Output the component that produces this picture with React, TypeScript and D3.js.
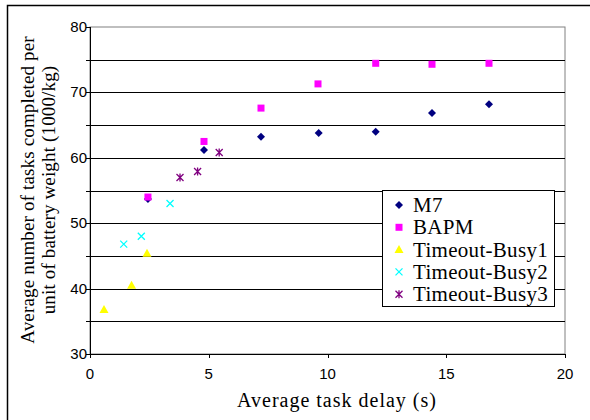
import React from "react";
import * as d3 from "d3";

const m7X = [2.44, 4.8, 7.2, 9.63, 12.03, 14.4, 16.8];
const m7Y = [53.7, 61.2, 63.2, 63.8, 64.0, 66.85, 68.2];
const bapmX = [2.44, 4.8, 7.2, 9.6, 12.03, 14.4, 16.8];
const bapmY = [54.0, 62.5, 67.6, 71.3, 74.45, 74.3, 74.45];
const tb1X = [0.59, 1.75, 2.4];
const tb1Y = [36.8, 40.5, 45.4];
const tb2X = [1.42, 2.16, 3.37];
const tb2Y = [46.8, 48.0, 53.0];
const tb3X = [3.79, 4.53, 5.44];
const tb3Y = [57.0, 57.9, 60.8];

const seriesNames = ["M7", "BAPM", "Timeout-Busy1", "Timeout-Busy2", "Timeout-Busy3"];
const xTicks = [0, 5, 10, 15, 20];
const yTicks = [30, 40, 50, 60, 70, 80];
const yGrid = [35, 40, 45, 50, 55, 60, 65, 70, 75];

const xTitle = "Average task delay (s)";
const yTitle1 = "Average number of tasks completed per";
const yTitle2 = "unit of battery weight (1000/kg)";

type Shape = "diamond" | "square" | "triangle" | "x" | "star";
const seriesStyle: { color: string; shape: Shape }[] = [
  { color: "#000080", shape: "diamond" },
  { color: "#FF00FF", shape: "square" },
  { color: "#FFFF00", shape: "triangle" },
  { color: "#00FFFF", shape: "x" },
  { color: "#800080", shape: "star" },
];

function Marker({ x, y, shape, color }: { x: number; y: number; shape: Shape; color: string }) {
  if (shape === "diamond") {
    return <path d={`M${x},${y - 4}L${x + 4},${y}L${x},${y + 4}L${x - 4},${y}Z`} fill={color} />;
  }
  if (shape === "square") {
    return <rect x={x - 3.5} y={y - 3.5} width={7} height={7} fill={color} />;
  }
  if (shape === "triangle") {
    return <path d={`M${x},${y - 4.5}L${x + 4.5},${y + 3.5}L${x - 4.5},${y + 3.5}Z`} fill={color} />;
  }
  if (shape === "x") {
    return (
      <path d={`M${x - 3.5},${y - 3.5}L${x + 3.5},${y + 3.5}M${x + 3.5},${y - 3.5}L${x - 3.5},${y + 3.5}`} stroke={color} strokeWidth={1.3} />
    );
  }
  return (
    <path
      d={`M${x - 3.5},${y - 3.5}L${x + 3.5},${y + 3.5}M${x + 3.5},${y - 3.5}L${x - 3.5},${y + 3.5}M${x},${y - 4}L${x},${y + 4}`}
      stroke={color}
      strokeWidth={1.3}
    />
  );
}

export default function App() {
  const W = 590, H = 420;
  const left = 90, right = 565, top = 27, bottom = 354;
  const x = d3.scaleLinear().domain([0, 20]).range([left, right]);
  const y = d3.scaleLinear().domain([30, 80]).range([bottom, top]);

  const data = [
    { xs: m7X, ys: m7Y },
    { xs: bapmX, ys: bapmY },
    { xs: tb1X, ys: tb1Y },
    { xs: tb2X, ys: tb2Y },
    { xs: tb3X, ys: tb3Y },
  ];

  const legX = 382, legY = 190, legW = 172, legH = 116;
  const serif = "'Liberation Serif', 'Times New Roman', serif";
  const sans = "'Liberation Sans', Arial, sans-serif";

  return (
    <svg width={W} height={H} style={{ position: "absolute", left: 0, top: 0, background: "#fff" }}>
      <rect x={7.5} y={5.5} width={W + 10} height={H + 10} fill="#fff" stroke="#000" strokeWidth={1.5} />
      {/* plot frame */}
      <rect x={left} y={top} width={right - left} height={bottom - top} fill="#fff" stroke="#808080" strokeWidth={1} />
      {yGrid.map((v) => (
        <line key={v} x1={left} x2={right} y1={Math.round(y(v)) + 0.5} y2={Math.round(y(v)) + 0.5} stroke="#000" strokeWidth={1} />
      ))}
      {/* axes */}
      <line x1={left + 0.5} x2={left + 0.5} y1={top} y2={bottom + 0.5} stroke="#000" />
      <line x1={left} x2={right + 0.5} y1={bottom + 0.5} y2={bottom + 0.5} stroke="#000" />
      {d3.range(30, 81, 5).map((v) => (
        <line key={"yt" + v} x1={left - 4} x2={left} y1={Math.round(y(v)) + 0.5} y2={Math.round(y(v)) + 0.5} stroke="#000" />
      ))}
      {xTicks.map((v) => (
        <line key={"xt" + v} x1={Math.round(x(v)) + 0.5} x2={Math.round(x(v)) + 0.5} y1={bottom} y2={bottom + 4} stroke="#000" />
      ))}
      {yTicks.map((v) => (
        <text key={"yl" + v} x={left - 3} y={y(v) + 5} textAnchor="end" fontFamily={sans} fontSize={15} fill="#000">
          {v}
        </text>
      ))}
      {xTicks.map((v) => (
        <text key={"xl" + v} x={x(v)} y={379} textAnchor="middle" fontFamily={sans} fontSize={15} fill="#000">
          {v}
        </text>
      ))}
      <text x={337} y={407} textAnchor="middle" fontFamily={serif} fontSize={20} letterSpacing={1} fill="#000">
        {xTitle}
      </text>
      <text transform="translate(34,190) rotate(-90)" textAnchor="middle" fontFamily={serif} fontSize={19} letterSpacing={0.15} fill="#000">
        {yTitle1}
      </text>
      <text transform="translate(55,190) rotate(-90)" textAnchor="middle" fontFamily={serif} fontSize={19} letterSpacing={0.15} fill="#000">
        {yTitle2}
      </text>
      {data.map((s, i) =>
        s.xs.map((xv, j) => (
          <Marker key={i + "-" + j} x={x(xv)} y={y(s.ys[j])} shape={seriesStyle[i].shape} color={seriesStyle[i].color} />
        ))
      )}
      {/* legend */}
      <rect x={legX + 0.5} y={legY + 0.5} width={legW} height={legH} fill="#fff" stroke="#000" strokeWidth={1} />
      {seriesNames.map((n, i) => {
        const cy = legY + 15 + i * 22.3;
        return (
          <g key={n}>
            <Marker x={legX + 17} y={cy} shape={seriesStyle[i].shape} color={seriesStyle[i].color} />
            <text x={legX + 31} y={cy + 7} fontFamily={serif} fontSize={21} letterSpacing={0.3} fill="#000">
              {n}
            </text>
          </g>
        );
      })}
    </svg>
  );
}
